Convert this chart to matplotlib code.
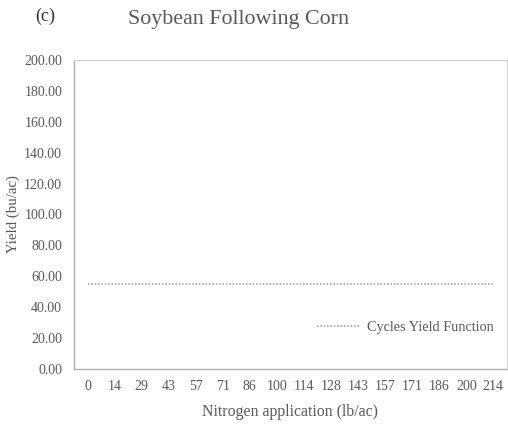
import numpy as np
import matplotlib.pyplot as plt

plt.rcParams['font.family'] = ['Liberation Serif', 'DejaVu Serif']

n_rates = [0, 14, 29, 43, 57, 71, 86, 100, 114, 128, 143, 157, 171, 186, 200, 214]
cycles_yield = [55.0] * len(n_rates)
y_ticks = np.arange(0, 201, 20)

fig = plt.figure(figsize=(5.08, 4.25), dpi=100)
ax = fig.add_axes([0.1457, 0.1318, 0.852, 0.727])

xs = np.arange(len(n_rates))
ax.plot(xs, cycles_yield, linestyle=(0, (1, 1.2)), color='#9a9a9a', lw=1.1,
        label='Cycles Yield Function')

ax.set_xlim(-0.5, len(n_rates) - 0.5)
ax.set_ylim(0, 200)
ax.set_yticks(y_ticks)
ax.set_yticklabels([f'{v:.2f}' for v in y_ticks])
ax.set_xticks(xs)
ax.set_xticklabels([str(n) for n in n_rates])
ax.tick_params(length=0, labelsize=10, colors='#595959')
ax.tick_params(axis='y', pad=8.5)
ax.tick_params(axis='x', pad=8)

for side in ['left', 'bottom']:
    ax.spines[side].set_color('#b0b0b0')
    ax.spines[side].set_linewidth(1.0)
for side in ['top', 'right']:
    ax.spines[side].set_color('#d0d0d0')
    ax.spines[side].set_linewidth(0.8)

ax.set_ylabel('Yield (bu/ac)', fontsize=10.7, color='#595959', labelpad=3)
ax.set_xlabel('Nitrogen application (lb/ac)', fontsize=11.4, color='#595959', labelpad=8)

leg = ax.legend(loc='lower right', frameon=False, fontsize=10.3,
                handlelength=3.0, handletextpad=0.5,
                bbox_to_anchor=(1.0, 0.07))
for t in leg.get_texts():
    t.set_color('#595959')

fig.text(0.469, 0.955, 'Soybean Following Corn', ha='center', va='center',
         fontsize=15.8, color='#595959')
fig.text(0.09, 0.962, '(c)', ha='center', va='center', fontsize=13, color='#303030')

fig.savefig('out.png', dpi=100)
